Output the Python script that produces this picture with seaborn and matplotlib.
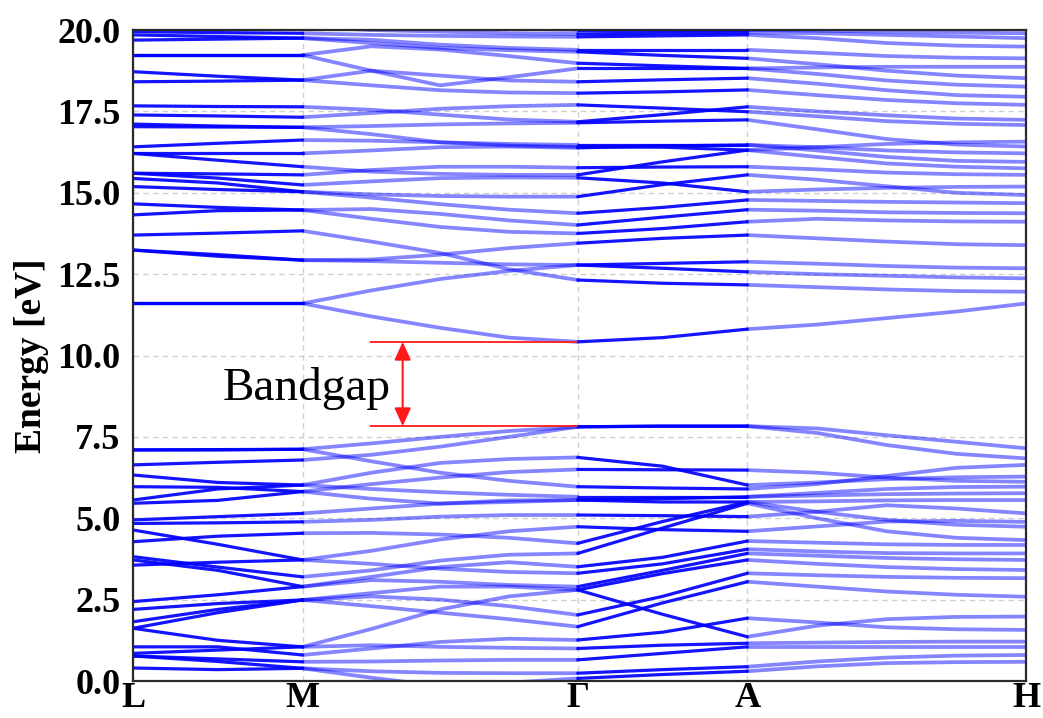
import numpy as np
import pandas as pd
import matplotlib
matplotlib.use("Agg")
import matplotlib.pyplot as plt
import seaborn as sns

# High-symmetry path and sampling along each leg (end points included)
k_labels = ["L", "M", "Γ", "A", "H"]
k_nodes = [0.0, 0.190, 0.498, 0.688, 1.0]
seg_samples = [3, 5, 3, 5]

# Band energies (eV) at: L, LM/2, M, MΓ/4, MΓ/2, 3MΓ/4, Γ, ΓA/2, A, AH/4, AH/2, 3AH/4, H
vb_top = [
    [7.10, 7.10, 7.12, 7.30, 7.50, 7.68, 7.81, 7.83, 7.83, 7.76, 7.55, 7.35, 7.15],
    [6.64, 6.72, 6.79, 6.95, 7.20, 7.50, 7.81, 7.83, 7.83, 7.62, 7.25, 6.98, 6.84],
    [7.10, 7.11, 7.12, 6.75, 6.40, 6.15, 5.97, 5.93, 5.90, 6.05, 6.30, 6.55, 6.64],
    [6.33, 6.10, 6.02, 6.40, 6.70, 6.82, 6.87, 6.60, 6.02, 6.10, 6.20, 6.26, 6.28],
    [5.97, 5.95, 5.82, 6.05, 6.25, 6.42, 6.50, 6.49, 6.48, 6.40, 6.25, 6.15, 6.12],
    [5.56, 5.90, 6.02, 5.90, 5.80, 5.72, 5.66, 5.66, 5.66, 5.78, 5.90, 5.96, 5.97],
    [5.46, 5.55, 5.82, 5.60, 5.45, 5.50, 5.56, 5.60, 5.66, 5.70, 5.74, 5.76, 5.77],
    [4.95, 5.05, 5.15, 5.30, 5.45, 5.55, 5.56, 5.50, 5.50, 5.52, 5.55, 5.56, 5.56],
]
vb_mid = [
    [4.84, 4.86, 4.89, 4.95, 5.05, 5.10, 5.10, 5.08, 5.05, 5.20, 5.40, 5.30, 5.15],
    [4.64, 4.20, 3.72, 4.00, 4.35, 4.60, 4.74, 4.65, 4.60, 4.75, 4.90, 4.92, 4.89],
    [4.28, 4.45, 4.54, 4.55, 4.50, 4.40, 4.23, 4.90, 5.50, 5.20, 4.95, 4.80, 4.74],
    [3.82, 3.50, 3.20, 3.40, 3.70, 3.88, 3.92, 4.70, 5.46, 5.00, 4.60, 4.40, 4.33],
    [3.72, 3.40, 2.90, 3.20, 3.50, 3.65, 3.51, 3.80, 4.30, 4.25, 4.20, 4.18, 4.18],
    [3.56, 3.65, 3.72, 3.60, 3.45, 3.35, 3.31, 3.60, 4.05, 3.98, 3.93, 3.92, 3.92],
    [2.44, 2.65, 2.90, 3.10, 3.05, 2.95, 2.90, 3.40, 3.92, 3.85, 3.78, 3.74, 3.72],
    [2.20, 2.38, 2.49, 2.70, 2.90, 2.90, 2.80, 3.30, 3.72, 3.60, 3.50, 3.44, 3.41],
]
vb_low = [
    [1.82, 2.20, 2.49, 2.60, 2.50, 2.30, 2.03, 2.60, 3.31, 3.25, 3.20, 3.17, 3.16],
    [1.62, 2.10, 2.49, 2.30, 2.10, 1.90, 1.67, 2.40, 3.05, 2.90, 2.75, 2.65, 2.59],
    [1.62, 1.25, 1.05, 1.60, 2.20, 2.60, 2.80, 2.05, 1.36, 1.70, 1.90, 1.97, 1.98],
    [1.05, 1.05, 0.80, 1.00, 1.20, 1.30, 1.26, 1.50, 1.93, 1.80, 1.65, 1.59, 1.57],
    [0.85, 0.95, 1.05, 1.10, 1.05, 1.02, 1.00, 1.10, 1.16, 1.18, 1.20, 1.21, 1.21],
    [0.77, 0.68, 0.59, 0.60, 0.63, 0.65, 0.65, 0.85, 1.05, 1.05, 1.05, 1.05, 1.05],
    [0.77, 0.60, 0.39, 0.30, 0.25, 0.24, 0.24, 0.35, 0.44, 0.60, 0.72, 0.78, 0.80],
    [0.40, 0.35, 0.39, 0.10, -0.15, -0.05, 0.08, 0.20, 0.30, 0.45, 0.55, 0.58, 0.59],
]
cb_low = [
    [11.60, 11.60, 11.60, 11.20, 10.85, 10.55, 10.42, 10.55, 10.81, 10.95, 11.15, 11.35, 11.60],
    [11.60, 11.60, 11.60, 12.00, 12.35, 12.60, 12.78, 12.83, 12.88, 12.82, 12.75, 12.70, 12.68],
    [13.24, 13.05, 12.93, 12.90, 12.85, 12.80, 12.78, 12.68, 12.57, 12.50, 12.45, 12.40, 12.37],
    [13.24, 13.10, 12.93, 12.95, 13.10, 13.30, 13.45, 13.60, 13.70, 13.60, 13.50, 13.42, 13.39],
    [13.70, 13.76, 13.83, 13.50, 13.15, 12.65, 12.32, 12.22, 12.17, 12.10, 12.03, 11.98, 11.96],
    [14.32, 14.45, 14.47, 14.20, 13.95, 13.80, 13.75, 13.90, 14.11, 14.20, 14.15, 14.12, 14.11],
    [14.66, 14.55, 14.47, 14.50, 14.35, 14.15, 14.01, 14.25, 14.48, 14.45, 14.40, 14.38, 14.37],
    [15.19, 15.10, 15.03, 14.85, 14.65, 14.48, 14.37, 14.55, 14.78, 14.75, 14.72, 14.70, 14.68],
    [15.44, 15.30, 15.03, 14.95, 14.90, 14.88, 14.88, 15.25, 15.55, 15.40, 15.20, 15.00, 14.93],
]
cb_mid = [
    [15.60, 15.45, 15.24, 15.35, 15.45, 15.47, 15.46, 15.30, 15.03, 15.10, 15.15, 15.18, 15.19],
    [15.60, 15.58, 15.55, 15.70, 15.80, 15.80, 15.77, 15.79, 15.80, 15.72, 15.62, 15.57, 15.55],
    [16.21, 16.00, 15.80, 15.65, 15.58, 15.55, 15.55, 15.95, 16.31, 16.10, 15.90, 15.80, 15.75],
    [16.21, 16.21, 16.21, 16.30, 16.40, 16.42, 16.38, 16.44, 16.47, 16.30, 16.10, 15.98, 15.95],
    [16.41, 16.52, 16.62, 16.60, 16.55, 16.50, 16.47, 16.47, 16.47, 16.40, 16.30, 16.24, 16.21],
    [17.03, 17.02, 17.01, 17.05, 17.10, 17.13, 17.15, 17.20, 17.24, 16.95, 16.65, 16.48, 16.42],
    [17.11, 17.05, 17.01, 16.80, 16.55, 16.45, 16.41, 16.40, 16.31, 16.40, 16.50, 16.55, 16.57],
    [17.39, 17.36, 17.32, 17.45, 17.58, 17.66, 17.70, 17.60, 17.49, 17.35, 17.20, 17.12, 17.08],
    [17.67, 17.65, 17.64, 17.55, 17.40, 17.25, 17.18, 17.40, 17.64, 17.50, 17.38, 17.28, 17.24],
]
cb_high = [
    [18.41, 18.43, 18.46, 18.30, 18.15, 18.08, 18.06, 18.10, 18.16, 18.00, 17.85, 17.75, 17.70],
    [18.72, 18.58, 18.46, 18.75, 18.60, 18.45, 18.41, 18.47, 18.52, 18.35, 18.15, 18.00, 17.95],
    [19.23, 19.23, 19.23, 18.75, 18.30, 18.55, 18.82, 18.82, 18.82, 18.65, 18.45, 18.32, 18.26],
    [19.23, 19.23, 19.23, 19.50, 19.40, 19.20, 18.98, 18.90, 18.82, 18.85, 18.87, 18.87, 18.87],
    [19.69, 19.72, 19.75, 19.60, 19.45, 19.38, 19.33, 19.22, 19.13, 18.95, 18.75, 18.60, 18.52],
    [19.85, 19.80, 19.75, 19.70, 19.55, 19.45, 19.39, 19.39, 19.39, 19.30, 19.20, 19.15, 19.13],
    [19.95, 19.92, 19.90, 19.85, 19.82, 19.80, 19.79, 19.82, 19.85, 19.75, 19.60, 19.52, 19.49],
    [20.30, 20.20, 20.10, 20.00, 19.95, 19.90, 19.88, 19.90, 19.92, 19.90, 19.85, 19.80, 19.75],
    [20.60, 20.50, 20.40, 20.20, 20.10, 20.05, 20.00, 20.00, 20.00, 19.98, 19.95, 19.92, 19.90],
]

valence = vb_top + vb_mid + vb_low
conduction = cb_low + cb_mid + cb_high
bands = valence + conduction

# k coordinate of every sample, grouped by path leg
seg_k = [np.linspace(k_nodes[i], k_nodes[i + 1], n) for i, n in enumerate(seg_samples)]
seg_start = np.concatenate([[0], np.cumsum([n - 1 for n in seg_samples])[:-1]])

rows = []
for b, energies in enumerate(bands):
    for s, ks in enumerate(seg_k):
        i0 = seg_start[s]
        for j, kv in enumerate(ks):
            rows.append({"k": kv, "E": energies[i0 + j], "band": b, "seg": s})
df = pd.DataFrame(rows)

sns.set_style("white")
plt.rcParams["font.family"] = ["Liberation Serif", "DejaVu Serif"]
plt.rcParams.update({"text.color": "black", "axes.labelcolor": "black",
                     "xtick.color": "black", "ytick.color": "black"})

fig = plt.figure(figsize=(10.43, 7.18), dpi=100)
ax = fig.add_axes([0.1275, 0.0515, 0.8562, 0.9067])

# Short legs are sampled densely in the source calculation and look darker
seg_style = {0: (0.92, 2.3), 1: (0.48, 2.7), 2: (0.92, 2.3), 3: (0.48, 2.7)}
for s, (alpha, lw) in seg_style.items():
    sns.lineplot(data=df[df["seg"] == s], x="k", y="E", units="band",
                 estimator=None, sort=False, color="#0000ff", alpha=alpha,
                 lw=lw, legend=False, ax=ax, zorder=3)

# Band gap marker between valence band maximum and conduction band minimum
vbm = max(max(b) for b in valence)
cbm = min(min(b) for b in conduction)
x_gap0, x_gap1, x_arrow = 0.265, k_nodes[2], 0.302
ax.hlines([vbm, cbm], x_gap0, x_gap1, color="#ff1a1a", lw=1.3, zorder=4)
ax.annotate("", xy=(x_arrow, cbm), xytext=(x_arrow, vbm),
            arrowprops=dict(arrowstyle="<|-|>,head_length=0.55,head_width=0.25",
                            color="#ff1a1a", lw=1.5, mutation_scale=20,
                            shrinkA=0, shrinkB=0), zorder=5)
ax.text(0.195, (vbm + cbm) / 2 - 0.15, "Bandgap", fontsize=34, color="black",
        ha="center", va="center", family="Liberation Serif", zorder=5)

ax.set_xlim(k_nodes[0], k_nodes[-1])
ax.set_ylim(0, 20)
ax.set_xticks(k_nodes)
ax.set_xticklabels(k_labels)
yt = np.arange(0, 20.01, 2.5)
ax.set_yticks(yt)
ax.set_yticklabels([f"{v:.1f}" for v in yt])
ax.set_xlabel("")
ax.set_ylabel("Energy [eV]", fontsize=27, fontweight="bold", labelpad=6)
for lab in ax.get_xticklabels() + ax.get_yticklabels():
    lab.set_fontweight("bold")
ax.tick_params(axis="both", direction="in", length=8, width=1.3,
               labelsize=26, color="#222222")
ax.tick_params(axis="y", pad=9)
ax.tick_params(axis="x", pad=1)

ax.grid(True, color="#d0d0d0", ls=(0, (4, 3)), lw=1.0, zorder=0)
ax.set_axisbelow(True)
for sp in ax.spines.values():
    sp.set_color("#2a2a2a")
    sp.set_linewidth(1.6)
    sp.set_zorder(6)

fig.savefig("out.png", dpi=100)
